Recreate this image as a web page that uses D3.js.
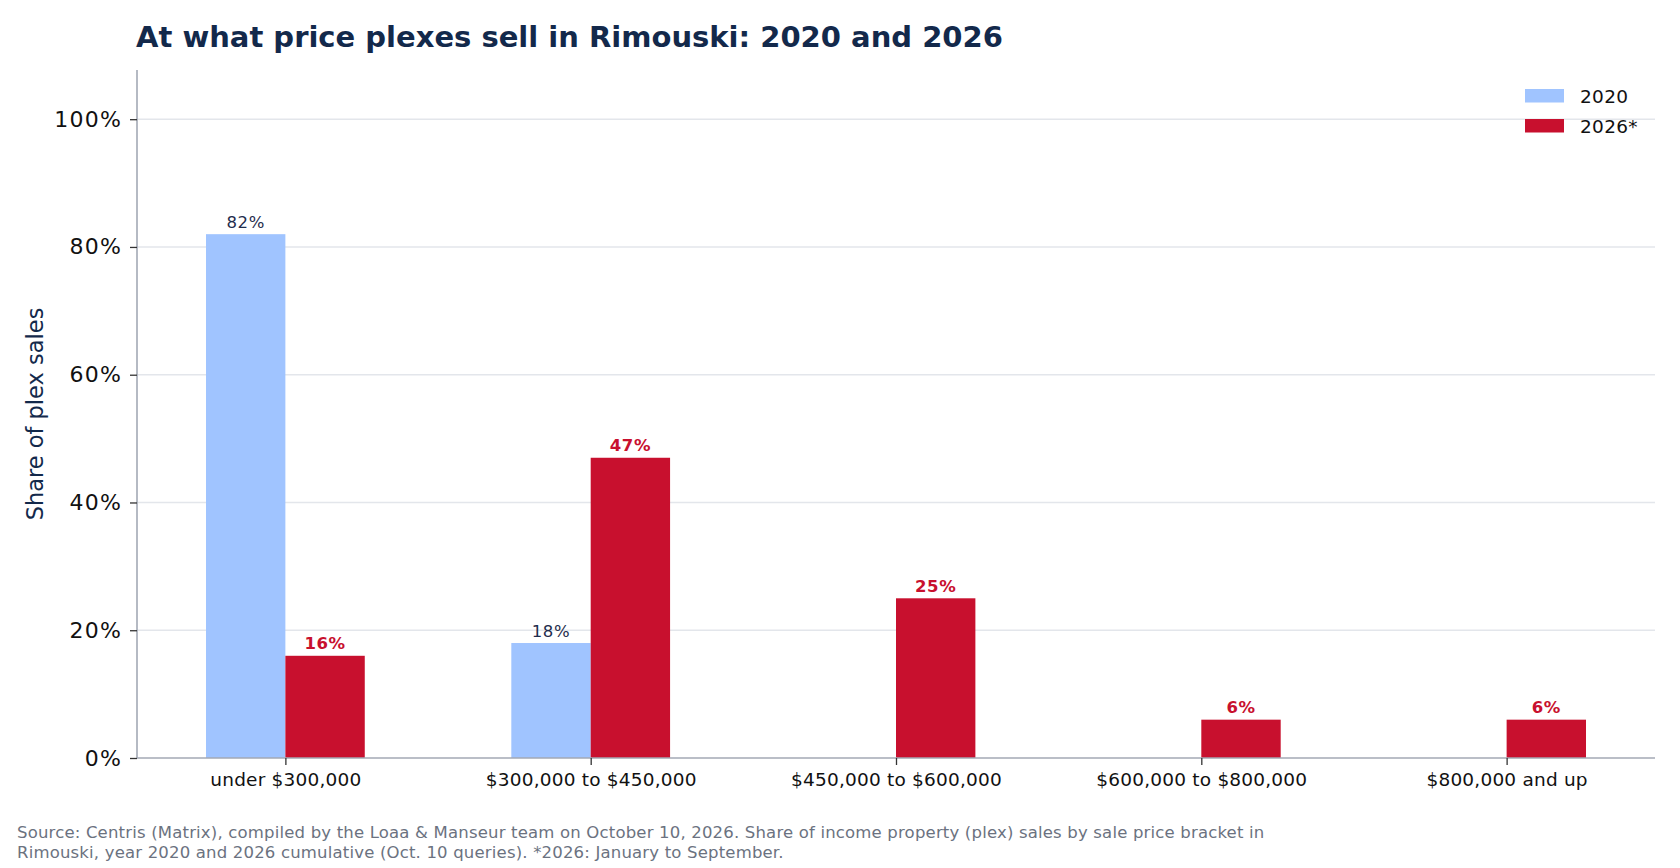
<!DOCTYPE html>
<html>
<head>
<meta charset="utf-8">
<script src="https://cdn.jsdelivr.net/npm/d3@7"></script>
<style>
  html, body { margin: 0; padding: 0; background: #fff; }
  svg { display: block; font-family: "DejaVu Sans", sans-serif; }
</style>
</head>
<body>
<svg id="chart"></svg>
<script>
// Price brackets and share of plex sales (%) per year
const brackets = ['under $300,000', '$300,000 to $450,000', '$450,000 to $600,000', '$600,000 to $800,000', '$800,000 and up'];
const share2020 = [82, 18, 0, 0, 0];
const share2026 = [16, 47, 25, 6, 6];
const seriesNames = ['2020', '2026*'];
const yTicks = [0, 20, 40, 60, 80, 100];

const width = 1680, height = 868;
const margin = { top: 70, right: 25, bottom: 110, left: 137 };
const svg = d3.select('#chart').attr('width', width).attr('height', height);

const blue = '#a0c4ff', red = '#c8102e', navy = '#13294b';
const barW = 0.26; // in category units, like a matplotlib bar width

// x runs over category index, with 5% margins round the bars
const xMin = -barW, xMax = brackets.length - 1 + barW;
const pad = (xMax - xMin) * 0.05;
const x = d3.scaleLinear()
  .domain([xMin - pad, xMax + pad])
  .range([margin.left, width - margin.right]);

const y = d3.scaleLinear()
  .domain([0, 107.7])
  .range([height - margin.bottom, margin.top]);

// gridlines
svg.append('g')
  .selectAll('line')
  .data(yTicks.slice(1))
  .enter().append('line')
  .attr('x1', x.range()[0]).attr('x2', x.range()[1])
  .attr('y1', d => y(d)).attr('y2', d => y(d))
  .attr('stroke', '#e3e6eb').attr('stroke-width', 1.5);

// bars
const series = [
  { name: seriesNames[0], values: share2020, offset: -barW, color: blue },
  { name: seriesNames[1], values: share2026, offset: 0, color: red }
];

series.forEach((s, si) => {
  const data = s.values.map((v, i) => ({ v, i })).filter(d => d.v > 0);
  const g = svg.append('g');
  g.selectAll('rect')
    .data(data)
    .enter().append('rect')
    .attr('x', d => x(d.i + s.offset))
    .attr('width', d => x(d.i + s.offset + barW) - x(d.i + s.offset))
    .attr('y', d => y(d.v))
    .attr('height', d => y(0) - y(d.v))
    .attr('fill', s.color);

  g.selectAll('text')
    .data(data)
    .enter().append('text')
    .attr('x', d => x(d.i + s.offset + barW / 2))
    .attr('y', d => y(d.v) - 6.5)
    .attr('text-anchor', 'middle')
    .style('font-size', '16.5px')
    .style('letter-spacing', '0.6px')
    .style('font-weight', si === 1 ? 'bold' : 'normal')
    .attr('fill', si === 1 ? red : '#1f2d4d')
    .text(d => d.v + '%');
});

// axes
const xAxis = svg.append('g')
  .attr('transform', `translate(0,${y(0)})`)
  .call(d3.axisBottom(x).tickValues(d3.range(brackets.length)).tickFormat(i => brackets[i]).tickSize(7).tickPadding(8));
xAxis.selectAll('.tick line').attr('stroke', '#333').attr('stroke-width', 1.3);
xAxis.selectAll('.tick text').style('font-size', '18.5px').style('letter-spacing', '0.2px')
  .style('font-family', '"DejaVu Sans", sans-serif').attr('fill', '#111');

const yAxis = svg.append('g')
  .attr('transform', `translate(${x.range()[0]},0)`)
  .call(d3.axisLeft(y).tickValues(yTicks).tickFormat(d => d + '%').tickSize(7).tickPadding(8));
yAxis.selectAll('.tick line').attr('stroke', '#333').attr('stroke-width', 1.3);
yAxis.selectAll('.tick text').style('font-size', '22px').style('letter-spacing', '1.2px')
  .style('font-family', '"DejaVu Sans", sans-serif').attr('fill', '#111');

// only left and bottom spines, like the reference
xAxis.select('.domain').attr('stroke', '#a3a9b5').attr('stroke-width', 1.6)
  .attr('d', `M${x.range()[0]},0H${x.range()[1]}`);
yAxis.select('.domain').attr('stroke', '#a3a9b5').attr('stroke-width', 1.6)
  .attr('d', `M0,${y.range()[0]}V${y.range()[1]}`);

// y label
svg.append('text')
  .attr('transform', `translate(43,414) rotate(-90)`)
  .attr('text-anchor', 'middle')
  .style('font-size', '22.5px')
  .attr('fill', navy)
  .text('Share of plex sales');

// title
svg.append('text')
  .attr('x', 136).attr('y', 47)
  .style('font-size', '29px').style('font-weight', 'bold')
  .attr('fill', navy)
  .text('At what price plexes sell in Rimouski: 2020 and 2026');

// legend
const legend = svg.append('g').attr('transform', 'translate(1525,89)');
series.forEach((s, i) => {
  const row = legend.append('g').attr('transform', `translate(0,${i * 30})`);
  row.append('rect').attr('width', 39).attr('height', 13.5).attr('fill', s.color);
  row.append('text').attr('x', 55).attr('y', 14)
    .style('font-size', '18.5px').style('letter-spacing', '0.3px')
    .attr('fill', '#111').text(s.name);
});

// source note
const note = [
  'Source: Centris (Matrix), compiled by the Loaa & Manseur team on October 10, 2026. Share of income property (plex) sales by sale price bracket in',
  'Rimouski, year 2020 and 2026 cumulative (Oct. 10 queries). *2026: January to September.'
];
svg.append('g').selectAll('text')
  .data(note)
  .enter().append('text')
  .attr('x', 17).attr('y', (d, i) => 838 + i * 20)
  .style('font-size', '16.5px')
  .style('letter-spacing', '0.18px')
  .attr('fill', '#6b7280')
  .text(d => d);
</script>
</body>
</html>
